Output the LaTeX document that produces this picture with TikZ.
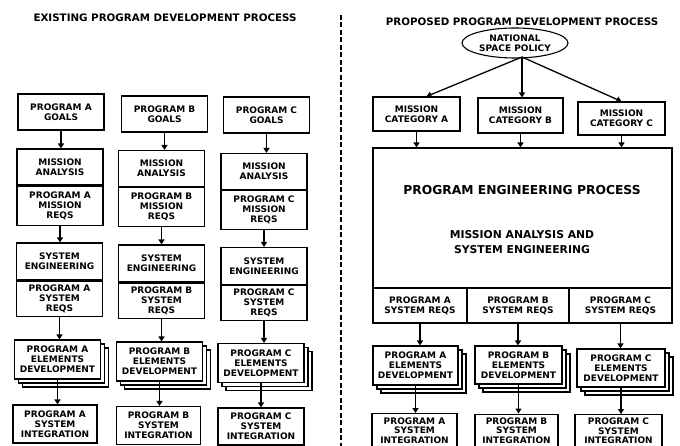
\documentclass[tikz,border=0pt]{standalone}
\usepackage{fontspec}
\setsansfont{DejaVu Sans}
\usetikzlibrary{shadows,arrows.meta,shapes.geometric}
\begin{document}
\begin{tikzpicture}[x=1pt,y=-1pt,
  lbl/.style={font=\sffamily\bfseries\fontsize{9}{9.8}\selectfont, align=center, inner sep=0pt},
  box/.style={lbl, draw, line width=1.1pt, fill=white, minimum width=86pt, minimum height=36pt},
  stack/.style={box, double copy shadow={shadow xshift=4pt, shadow yshift=-4pt}},
  arr/.style={line width=1.3pt, -{Triangle[width=6pt,length=5pt]}},
  ttl/.style={font=\sffamily\bfseries\fontsize{10.3}{12}\selectfont, inner sep=0pt}
]
\useasboundingbox[fill=white] (0,0) rectangle (680,446);

% titles
\node[ttl] (tl) at (165,18) {EXISTING PROGRAM DEVELOPMENT PROCESS};
\node[ttl] (tr) at (522,22) {PROPOSED PROGRAM DEVELOPMENT PROCESS};

% divider
\draw[line width=1.4pt, dash pattern=on 5pt off 2.5pt] (341,15) -- (341,446);

% ---------------- left side ----------------
\node[box] (gA) at (61,112)    {PROGRAM A\\GOALS};
\node[box] (gB) at (164.5,114) {PROGRAM B\\GOALS};
\node[box] (gC) at (266.5,115) {PROGRAM C\\GOALS};

\node[box] (maA) at (60,167)    {MISSION\\ANALYSIS};
\node[box] (maB) at (161.5,168.5) {MISSION\\ANALYSIS};
\node[box] (maC) at (264,171.5) {MISSION\\ANALYSIS};
\node[box, minimum height=39pt, anchor=north] (mrA) at (maA.south) {PROGRAM A\\MISSION\\REQS};
\node[box, minimum height=39pt, anchor=north] (mrB) at (maB.south) {PROGRAM B\\MISSION\\REQS};
\node[box, minimum height=39pt, anchor=north] (mrC) at (maC.south) {PROGRAM C\\MISSION\\REQS};

\node[box, minimum height=37pt] (seA) at (59.5,261.5) {SYSTEM\\ENGINEERING};
\node[box, minimum height=37pt] (seB) at (161.5,263.5) {SYSTEM\\ENGINEERING};
\node[box, minimum height=37pt] (seC) at (264,266) {SYSTEM\\ENGINEERING};
\node[box, minimum height=35pt, anchor=north] (srA) at (seA.south) {PROGRAM A\\SYSTEM\\REQS};
\node[box, minimum height=35pt, anchor=north] (srB) at (seB.south) {PROGRAM B\\SYSTEM\\REQS};
\node[box, minimum height=35pt, anchor=north] (srC) at (seC.south) {PROGRAM C\\SYSTEM\\REQS};

\node[stack, minimum height=39pt] (edA) at (57.5,359.5) {PROGRAM A\\ELEMENTS\\DEVELOPMENT};
\node[stack, minimum height=39pt] (edB) at (159.5,361.5) {PROGRAM B\\ELEMENTS\\DEVELOPMENT};
\node[stack, minimum height=39pt] (edC) at (261,363) {PROGRAM C\\ELEMENTS\\DEVELOPMENT};

\node[box, minimum height=38pt, minimum width=84pt] (siA) at (55,424) {PROGRAM A\\SYSTEM\\INTEGRATION};
\node[box, minimum height=38pt, minimum width=84pt] (siB) at (158.5,425.5) {PROGRAM B\\SYSTEM\\INTEGRATION};
\node[box, minimum height=37pt, minimum width=86pt] (siC) at (261,426.5) {PROGRAM C\\SYSTEM\\INTEGRATION};

\foreach \c in {A,B,C}{
  \draw[arr] (g\c.south) -- (g\c.south |- ma\c.north);
  \draw[arr] (mr\c.south) -- (mr\c.south |- se\c.north);
  \draw[arr] (sr\c.south) -- (sr\c.south |- ed\c.north);
  \draw[arr] (ed\c.south) -- (ed\c.south |- si\c.north);
}

% ---------------- right side ----------------
\node[ellipse, draw, line width=1.1pt, fill=white, lbl, minimum width=106pt, minimum height=30pt] (nsp) at (515,43) {NATIONAL\\SPACE POLICY};

\node[box, minimum width=87pt, minimum height=34pt] (mcA) at (416.5,114) {MISSION\\CATEGORY A};
\node[box, minimum width=85pt, minimum height=35pt] (mcB) at (520.5,115.5) {MISSION\\CATEGORY B};
\node[box, minimum width=87pt, minimum height=33pt] (mcC) at (621.5,118.5) {MISSION\\CATEGORY C};

\coordinate (split) at (522,57);
\draw[arr] (split) -- ([xshift=10pt]mcA.north);
\draw[arr] (split) -- (split |- mcB.north);
\draw[arr] (split) -- (mcC.north);

\node[box, minimum width=299pt, minimum height=140pt] (peb) at (522.5,218) {};
\node[lbl, font=\sffamily\bfseries\fontsize{12.3}{14}\selectfont] (pet) at (522,190) {PROGRAM ENGINEERING PROCESS};
\node[lbl, font=\sffamily\bfseries\fontsize{10.8}{15}\selectfont] (pes) at (522,242.5) {MISSION ANALYSIS AND\\SYSTEM ENGINEERING};

\node[box, minimum width=94pt, minimum height=35pt] (rA) at (420,305.5) {PROGRAM A\\SYSTEM REQS};
\node[box, minimum width=102pt, minimum height=35pt] (rB) at (518,305.5) {PROGRAM B\\SYSTEM REQS};
\node[box, minimum width=103pt, minimum height=35pt] (rC) at (620.5,305.5) {PROGRAM C\\SYSTEM REQS};

\node[stack, minimum width=85pt, minimum height=39pt] (eRA) at (415.5,365.5) {PROGRAM A\\ELEMENTS\\DEVELOPMENT};
\node[stack, minimum width=87pt, minimum height=38pt] (eRB) at (518.5,365) {PROGRAM B\\ELEMENTS\\DEVELOPMENT};
\node[stack, minimum width=88pt, minimum height=38pt] (eRC) at (621,368) {PROGRAM C\\ELEMENTS\\DEVELOPMENT};

\node[box, minimum width=85pt, minimum height=34pt, anchor=north] (iRA) at (414.5,413) {PROGRAM A\\SYSTEM\\INTEGRATION};
\node[box, minimum width=83pt, minimum height=33pt, anchor=north] (iRB) at (516.5,413.5) {PROGRAM B\\SYSTEM\\INTEGRATION};
\node[box, minimum width=87pt, minimum height=32.5pt, anchor=north] (iRC) at (618.5,414) {PROGRAM C\\SYSTEM\\INTEGRATION};

\draw[arr] (mcA.south) -- (mcA.south |- peb.north);
\draw[arr] (mcB.south) -- (mcB.south |- peb.north);
\draw[arr] (mcC.south) -- (mcC.south |- peb.north);
\foreach \c in {A,B,C}{
  \draw[arr] (r\c.south) -- (r\c.south |- eR\c.north);
  \draw[arr] (eR\c.south) -- (eR\c.south |- iR\c.north);
}
\end{tikzpicture}
\end{document}
